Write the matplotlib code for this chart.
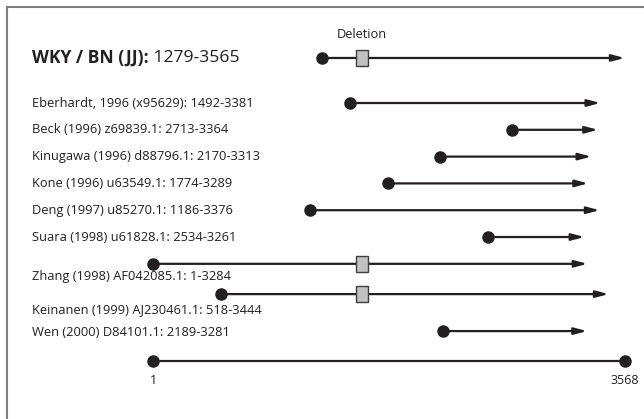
import matplotlib
matplotlib.use("Agg")
import matplotlib.pyplot as plt
from matplotlib.patches import Rectangle
from matplotlib.transforms import blended_transform_factory

plt.rcParams["font.family"] = ["Open Sans", "DejaVu Sans"]

# reference strain
ref_name = "WKY / BN (JJ):"
ref_start, ref_end = 1279, 3565

# published sequences
names = [
    "Eberhardt, 1996 (x95629):",
    "Beck (1996) z69839.1:",
    "Kinugawa (1996) d88796.1:",
    "Kone (1996) u63549.1:",
    "Deng (1997) u85270.1:",
    "Suara (1998) u61828.1:",
    "Zhang (1998) AF042085.1:",
    "Keinanen (1999) AJ230461.1:",
    "Wen (2000) D84101.1:",
]
starts = [1492, 2713, 2170, 1774, 1186, 2534, 1, 518, 2189]
ends = [3381, 3364, 3313, 3289, 3376, 3261, 3284, 3444, 3281]
has_deletion = [False, False, False, False, False, False, True, True, False]

deletion_pos = 1580
full_length = (1, 3568)

# layout (row units, 0 = first sequence row)
rows = [0, 1, 2, 3, 4, 5, 6, 7.13, 8.51]
label_rows = [0, 1, 2, 3, 4, 5, 6.49, 7.69, 8.58]
ref_row = -1.68
scale_row = 9.63

INK = "#231f20"

fig = plt.figure(figsize=(6.44, 4.19), dpi=100)
ax = fig.add_axes([0, 0, 1, 1])
ax.set_xlim(-1155.2, 3711.4)
ax.set_ylim(11.79, -3.843)
ax.axis("off")

lab = blended_transform_factory(ax.transAxes, ax.transData)

# frame: top and left edges only
fig.add_artist(plt.Line2D([7 / 644, 7 / 644], [0, 1 - 7 / 419], color="#808080", lw=1.5))
fig.add_artist(plt.Line2D([7 / 644, 1], [1 - 7 / 419, 1 - 7 / 419], color="#808080", lw=1.5))


def seq_arrow(y, x0, x1):
    ax.annotate("", xy=(x1, y), xytext=(x0, y),
                arrowprops=dict(arrowstyle="-|>,head_length=0.75,head_width=0.2",
                                color=INK, lw=1.6, shrinkA=0, shrinkB=0))
    ax.plot([x0], [y], "o", color=INK, ms=8, zorder=3)


def deletion_box(y):
    ax.add_patch(Rectangle((deletion_pos - 42, y - 0.3), 84, 0.6,
                           facecolor="#c0c1c3", edgecolor="#404040", lw=1, zorder=4))


# reference row
t = ax.text(0.0497, ref_row, ref_name, transform=lab, fontsize=12.6,
            fontweight="bold", va="center", color=INK)
ax.annotate(f" {ref_start}-{ref_end}", xy=(1, 0.5), xycoords=t, fontsize=12.6,
            va="center", ha="left", color=INK)
seq_arrow(ref_row, ref_start, ref_end)
deletion_box(ref_row)
ax.text(deletion_pos, ref_row - 0.87, "Deletion", fontsize=9.2, ha="center",
        va="center", color=INK)

for name, s, e, d, y, ly in zip(names, starts, ends, has_deletion, rows, label_rows):
    ax.text(0.0497, ly, f"{name} {s}-{e}", transform=lab, fontsize=9.3,
            va="center", color=INK)
    seq_arrow(y, s, e)
    if d:
        deletion_box(y)

# full-length scale
ax.plot(full_length, [scale_row, scale_row], color=INK, lw=1.6)
ax.plot(full_length, [scale_row, scale_row], "o", color=INK, ms=8)
for v in full_length:
    ax.text(v, scale_row + 0.72, str(v), fontsize=9, ha="center", va="center", color=INK)

fig.savefig("out.png", dpi=100)
